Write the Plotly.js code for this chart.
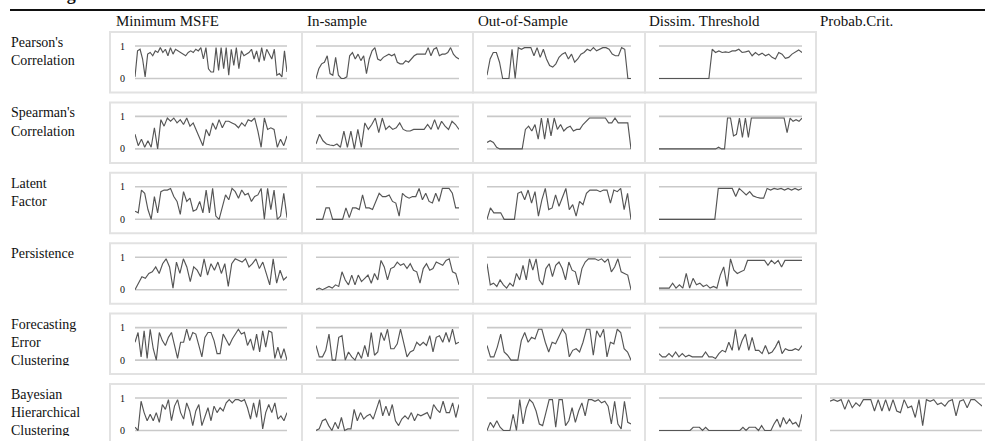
<!DOCTYPE html>
<html><head><meta charset="utf-8">
<script src="https://cdn.plot.ly/plotly-3.0.1.min.js"></script>
<style>html,body{margin:0;padding:0;background:#fff;}#chart{width:985px;height:441px;}</style>
</head><body><div id="chart"></div>
<script>
// ---------------- DATA ----------------
const methods = ['Minimum MSFE', 'In-sample', 'Out-of-Sample', 'Dissim. Threshold', 'Probab.Crit.'];
const rowLabels = ["Pearson's<br>Correlation", "Spearman's<br>Correlation", "Latent<br>Factor", "Persistence", "Forecasting<br>Error<br>Clustering", "Bayesian<br>Hierarchical<br>Clustering"];
const tickTop = '1';
const tickBottom = '0';

const pearsonMSFE = [0.05,0.85,0.9,0.6,0.05,0.75,0.8,0.7,0.85,0.8,0.95,0.8,0.9,0.7,0.95,0.75,0.9,0.85,0.8,0.75,0.7,0.8,0.85,0.8,0.9,0.85,0.95,0.6,0.95,0.3,0.2,0.2,0.95,0.25,0.95,0.3,0.95,0.1,0.9,0.4,0.95,0.3,0.85,0.7,0.75,0.8,0.9,0.6,0.85,0.5,0.95,0.55,0.9,0.75,0.6,0.9,0.1,0.15,0.05,0.85,0.2];
const pearsonIS = [0.0,0.3,0.45,0.5,0.7,0.15,0.1,0.65,0.1,0.0,0.0,0.05,0.7,0.8,0.6,0.75,0.55,0.7,0.15,0.6,0.85,0.95,0.6,0.55,0.65,0.7,0.75,0.7,0.75,0.5,0.45,0.45,0.55,0.5,0.6,0.7,0.75,0.75,0.75,0.75,0.95,0.7,0.9,0.95,0.7,0.75,0.75,0.8,0.95,0.75,0.65,0.6];
const pearsonOOS = [0.1,0.6,0.8,0.8,0.5,0.0,0.0,0.0,0.9,0.0,0.95,0.9,0.95,0.95,0.95,0.7,0.95,0.65,0.9,0.6,0.4,0.35,0.45,0.65,0.75,0.8,0.6,0.75,0.5,0.6,0.75,0.8,0.9,0.85,0.95,0.85,0.9,0.95,0.95,0.9,0.75,0.7,0.7,0.95,0.9,0.0,0.0];
const pearsonDT = [0,0,0,0,0,0,0,0,0,0,0,0,0,0,0,0,0.9,0.8,0.85,0.8,0.82,0.8,0.85,0.85,0.9,0.8,0.82,0.85,0.7,0.8,0.72,0.78,0.7,0.75,0.65,0.6,0.8,0.75,0.62,0.65,0.75,0.82,0.88,0.8];

const spearmanMSFE = [0.45,0.1,0.3,0.05,0.25,0.05,0.65,0.0,0.9,0.7,0.95,0.85,0.95,0.8,0.9,0.75,0.95,0.7,0.8,0.55,0.3,0.1,0.6,0.4,0.8,0.6,0.9,0.65,0.85,0.85,0.8,0.75,0.65,0.8,0.7,0.9,0.85,0.95,0.55,0.05,0.95,0.6,0.65,0.6,0.05,0.3,0.1,0.4];
const spearmanIS = [0.15,0.45,0.25,0.15,0.12,0.1,0.15,0.05,0.55,0.05,0.55,0.0,0.6,0.05,0.8,0.6,0.75,0.95,0.5,0.95,0.6,0.7,0.6,0.65,0.8,0.6,0.55,0.55,0.6,0.6,0.6,0.6,0.75,0.6,0.9,0.6,0.85,0.7,0.6,0.85,0.75,0.6];
const spearmanOOS = [0.2,0.25,0.2,0.05,0.0,0.0,0.0,0.0,0.0,0.0,0.0,0.0,0.6,0.7,0.55,0.75,0.3,0.95,0.3,0.95,0.4,0.95,0.6,0.75,0.55,0.65,0.7,0.55,0.6,0.6,0.75,0.85,0.95,0.95,0.95,0.95,0.95,0.95,0.8,0.8,0.95,0.8,0.8,0.8,0.8,0.0];
const spearmanDT = [0,0,0,0,0,0,0,0,0,0,0,0,0,0,0,0,0,0,0,0,0.05,0,0,0.95,0.95,0.4,0.45,0.95,0.35,0.95,0.35,0.95,0.95,0.95,0.95,0.95,0.95,0.95,0.95,0.95,0.95,0.95,0.95,0.5,0.95,0.85,0.9,0.85,0.95];

const latentMSFE = [0.25,0.2,0.9,0.8,0.3,0.0,0.7,0.2,0.85,0.9,0.9,0.95,0.7,0.55,0.15,0.85,0.55,0.65,0.25,0.3,0.55,0.2,0.9,0.2,0.95,0.1,0.0,0.4,0.75,0.6,0.95,0.85,0.65,0.9,0.75,0.8,0.55,0.7,0.75,0.95,0.0,0.95,0.3,0.9,0.0,0.1,0.8,0.05];
const latentIS = [0,0,0,0.35,0.35,0.0,0,0,0,0.35,0.05,0.35,0.35,0.3,0.75,0.35,0.35,0.3,0.55,0.8,0.7,0.7,0.75,0.55,0.5,0.1,0.8,0.7,0.65,0.7,0.7,0.95,0.6,0.8,0.55,0.5,0.8,0.55,0.95,0.95,0.95,0.8,0.35,0.35];
const latentOOS = [0.0,0.35,0.2,0.2,0.2,0.0,0.0,0.0,0.0,0.8,0.85,0.6,0.9,0.5,0.85,0.1,0.6,0.95,0.3,0.35,0.75,0.4,0.7,0.95,0.3,0.45,0.1,0.55,0.45,0.8,0.9,0.9,0.9,0.85,0.9,0.9,0.5,0.9,0.85,0.95,0.3,0.8,0.0];
const latentDT = [0,0,0,0,0,0,0,0,0,0,0,0,0,0,0,0,0,0.95,0.95,0.95,0.95,0.95,0.7,0.95,0.85,0.75,0.85,0.72,0.68,0.65,0.65,0.95,0.9,0.95,0.92,0.95,0.9,0.95,0.9,0.95,0.9,0.95];

const persistMSFE = [0.0,0.2,0.4,0.35,0.5,0.55,0.7,0.5,0.8,0.95,0.7,0.05,0.85,0.5,0.95,0.7,0.25,0.7,0.6,0.4,0.95,0.45,0.8,0.6,0.85,0.5,0.8,0.1,0.8,0.95,0.9,0.85,0.95,0.7,0.8,0.95,0.65,0.85,0.5,0.15,0.95,0.2,0.6,0.3,0.4];
const persistIS = [0.0,0.05,0.0,0.05,0.1,0.05,0.15,0.1,0.55,0.3,0.15,0.45,0.15,0.45,0.25,0.35,0.45,0.2,0.5,0.3,0.9,0.7,0.3,0.65,0.7,0.85,0.75,0.8,0.65,0.8,0.6,0.55,0.2,0.65,0.8,0.6,0.65,0.85,0.8,0.75,0.9,0.95,0.55,0.5,0.15];
const persistOOS = [0.8,0.15,0.2,0.1,0.3,0.15,0.05,0.2,0.1,0.5,0.3,0.75,0.3,0.95,0.6,0.95,0.3,0.15,0.65,0.8,0.4,0.75,0.85,0.65,0.3,0.85,0.6,0.55,0.15,0.65,0.85,0.95,0.95,0.95,0.9,0.95,0.85,0.95,0.55,0.7,0.95,0.55,0.5,0.45,0.0];
const persistDT = [0.05,0.05,0.05,0.05,0.2,0.05,0.15,0.05,0.5,0.05,0.35,0.15,0.2,0.1,0.15,0.05,0.1,0.05,0.45,0.7,0.1,0.95,0.6,0.5,0.55,0.6,0.9,0.9,0.9,0.9,0.9,0.9,0.75,0.9,0.8,0.9,0.7,0.9,0.9,0.9,0.9,0.9,0.9];

const fecMSFE = [0.55,0.85,0.1,0.9,0.05,0.95,0.35,0.0,0.85,0.6,0.45,0.7,0.85,0.4,0.05,0.55,0.55,0.95,0.6,0.85,0.8,0.45,0.1,0.7,0.85,0.85,0.6,0.2,0.2,0.8,0.6,0.45,0.65,0.8,0.95,0.8,0.85,0.45,0.65,0.3,0.8,0.25,0.9,0.4,0.9,0.85,0.05,0.4,0.05,0.35,0.0];
const fecIS = [0.45,0.1,0.1,0.3,0.8,0.0,0.0,0.7,0.75,0.0,0.25,0.1,0.0,0.25,0.05,0.45,0.1,0.85,0.15,0.25,0.85,0.6,0.95,0.35,0.35,0.5,0.95,0.5,0.1,0.25,0.3,0.55,0.45,0.55,0.45,0.75,0.25,0.7,0.75,0.55,0.85,0.55,0.95,0.5,0.55];
const fecOOS = [0.45,0.1,0.1,0.4,0.8,0.25,0.15,0.0,0.0,0.0,0.6,0.85,0.55,0.7,0.65,0.95,0.95,0.55,0.25,0.55,0.5,0.75,0.95,0.8,0.1,0.3,0.35,0.25,0.55,0.95,0.95,0.15,0.9,0.7,0.95,0.1,0.55,0.5,0.95,0.85,0.35,0.25,0.0];
const fecDT = [0.2,0.1,0.1,0.2,0.1,0.25,0.1,0.2,0.1,0.15,0.1,0.1,0.1,0.1,0.25,0.1,0.1,0.05,0.2,0.3,0.25,0.55,0.3,0.95,0.3,0.6,0.8,0.3,0.7,0.3,0.3,0.2,0.45,0.2,0.25,0.4,0.6,0.2,0.35,0.3,0.3,0.35,0.3,0.45];

const bhcMSFE = [0.1,0.0,0.9,0.55,0.3,0.5,0.3,0.55,0.25,0.8,0.65,0.95,0.3,0.75,0.95,0.55,0.35,0.85,0.6,0.15,0.6,0.8,0.15,0.4,0.7,0.3,0.75,0.55,0.7,0.6,0.85,0.95,0.85,0.95,0.95,0.9,0.95,0.7,0.35,0.85,0.4,0.95,0.05,0.55,0.8,0.55,0.85,0.35,0.45,0.3,0.55];
const bhcIS = [0.0,0.05,0.3,0.35,0.15,0.0,0.25,0.05,0.4,0.0,0.05,0.05,0.65,0.3,0.55,0.35,0.45,0.5,0.35,0.65,0.95,0.45,0.75,0.45,0.8,0.3,0.15,0.35,0.45,0.35,0.55,0.3,0.5,0.45,0.5,0.55,0.35,0.8,0.65,0.55,0.9,0.55,0.55,0.85,0.4,0.8];
const bhcOOS = [0.0,0.25,0.1,0.3,0.1,0.0,0.0,0.0,0.5,0.0,0.95,0.2,0.7,0.95,0.85,0.6,0.2,0.15,0.55,0.95,0.95,0.1,0.95,0.95,0.15,0.3,0.7,0.25,0.6,0.85,0.45,0.95,0.95,0.9,0.95,0.85,0.9,0.75,0.2,0.9,0.2,0.05,0.9,0.25,0.2];
const bhcDT = [0,0,0,0,0,0,0,0,0,0,0,0.1,0.1,0.1,0,0.1,0,0,0,0,0,0,0,0,0,0,0,0.1,0,0.1,0.1,0.1,0,0.15,0,0,0,0.2,0.35,0.1,0.4,0.2,0.35,0.2,0.25,0.1,0.5];
const bhcPC = [0.9,0.95,0.9,0.95,0.65,0.95,0.7,0.85,0.75,0.95,0.95,0.95,0.6,0.95,0.6,0.95,0.6,0.95,0.6,0.55,0.95,0.7,0.75,0.4,0.95,0.15,0.95,0.9,0.95,0.8,0.85,0.75,0.9,0.95,0.45,0.9,0.95,0.7,0.95,0.95,0.85,0.75];

const grid = [
  [pearsonMSFE, pearsonIS, pearsonOOS, pearsonDT, null],
  [spearmanMSFE, spearmanIS, spearmanOOS, spearmanDT, null],
  [latentMSFE, latentIS, latentOOS, latentDT, null],
  [persistMSFE, persistIS, persistOOS, persistDT, null],
  [fecMSFE, fecIS, fecOOS, fecDT, null],
  [bhcMSFE, bhcIS, bhcOOS, bhcDT, bhcPC]
];

// ---------------- LAYOUT ----------------
const W = 985, H = 441;
const px = x => x / W, py = y => 1 - y / H;
const FONT = '"Liberation Serif", "Times New Roman", serif';
const colL = [110, 302, 473, 645, 816], colR = [302, 473, 645, 816, 996];
const headerX = [115, 306, 477, 648, 819];
const rowT = [32, 102.4, 172.8, 243.2, 313.6, 384];
const BOXH = 60.5, TOP1 = 14, TOP0 = 46.5, PAD = 4, UNIT = TOP0 - TOP1;
const LABH = 52, LABOFF = 4.5;

const layout = {
  width: W, height: H, margin: {l: 0, r: 0, t: 0, b: 0},
  paper_bgcolor: '#fff', plot_bgcolor: 'rgba(0,0,0,0)', showlegend: false,
  font: {family: FONT, color: '#111'}
};
const traces = [], shapes = [], annotations = [];
let k = 0;

// top rule and cut-off heading above it
shapes.push({type: 'line', xref: 'paper', yref: 'paper', x0: px(10), x1: px(990), y0: py(10), y1: py(10), line: {color: '#111', width: 2}});
annotations.push({xref: 'paper', yref: 'paper', x: px(78), y: py(5.5), xanchor: 'right', yanchor: 'bottom', text: '<b>Forecasting</b>', showarrow: false, font: {family: FONT, size: 18, color: '#111'}});

// column headers
methods.forEach((m, c) => annotations.push({xref: 'paper', yref: 'paper', x: px(headerX[c] - 1), y: py(21), xanchor: 'left', yanchor: 'middle', text: m, showarrow: false, font: {family: FONT, size: 15, color: '#111'}}));

grid.forEach((row, r) => {
  row.forEach((s, c) => {
    if (!s) return;
    k++;
    const ax = k === 1 ? '' : String(k);
    const x0 = c === 0 ? 135 : colL[c] + 14;
    const x1 = c === 0 ? 287 : colR[c] - 14;
    const yTop = rowT[r] + TOP1 - PAD, yBot = rowT[r] + TOP0 + PAD;
    layout['xaxis' + ax] = {domain: [px(x0), px(x1)], range: [0, s.length - 1], visible: false, fixedrange: true, anchor: 'y' + ax};
    layout['yaxis' + ax] = {domain: [py(yBot), py(yTop)], range: [-PAD / UNIT, 1 + PAD / UNIT], visible: false, fixedrange: true, anchor: 'x' + ax};
    traces.push({type: 'scatter', mode: 'lines', x: s.map((_, i) => i), y: s, xaxis: 'x' + ax, yaxis: 'y' + ax,
      line: {color: '#555555', width: 1.15}, hoverinfo: 'skip', cliponaxis: false});
    [0, 1].forEach(v => shapes.push({type: 'line', layer: 'below', xref: 'x' + ax + ' domain', x0: 0, x1: 1, yref: 'y' + ax, y0: v, y1: v, line: {color: '#c9c9c9', width: 1.6}}));
    shapes.push({type: 'rect', layer: 'below', xref: 'paper', yref: 'paper', x0: px(colL[c]), x1: px(colR[c]), y0: py(rowT[r] + BOXH), y1: py(rowT[r]), line: {color: '#e2e2e2', width: 2}});
    if (c === 0) {
      annotations.push({xref: 'paper', yref: 'y' + ax, x: px(122.5), y: 1, xanchor: 'center', yanchor: 'middle', text: tickTop, showarrow: false, font: {family: FONT, size: 10, color: '#111'}});
      annotations.push({xref: 'paper', yref: 'y' + ax, x: px(122.5), y: 0, xanchor: 'center', yanchor: 'middle', text: tickBottom, showarrow: false, font: {family: FONT, size: 10, color: '#111'}});
    }
  });
});

// row labels, clipped to their own cells
rowLabels.forEach((lab, r) => {
  k++;
  const ax = String(k);
  layout['xaxis' + ax] = {domain: [px(11), px(108)], range: [0, 1], visible: false, fixedrange: true, anchor: 'y' + ax};
  layout['yaxis' + ax] = {domain: [py(rowT[r] + LABH), py(rowT[r])], range: [0, 1], visible: false, fixedrange: true, anchor: 'x' + ax};
  traces.push({type: 'scatter', mode: 'text', x: [0], y: [1 - LABOFF / LABH], text: [lab], textposition: 'bottom right', xaxis: 'x' + ax, yaxis: 'y' + ax,
    textfont: {family: FONT, size: 14, color: '#111'}, cliponaxis: true, hoverinfo: 'skip'});
});

layout.shapes = shapes;
layout.annotations = annotations;
Plotly.newPlot('chart', traces, layout, {staticPlot: true, displayModeBar: false});
</script></body></html>
